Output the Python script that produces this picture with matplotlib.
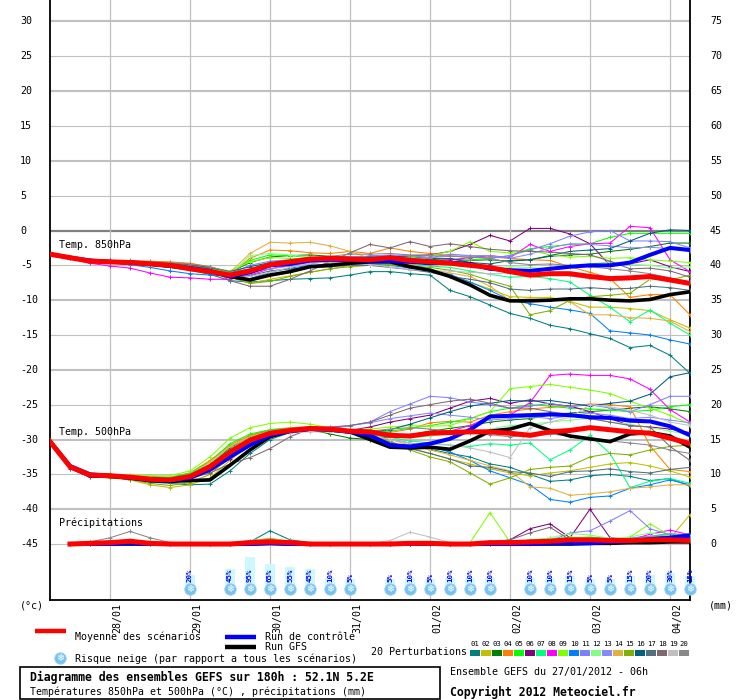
import numpy as np
import matplotlib
matplotlib.use('Agg')
import matplotlib.pyplot as plt
from matplotlib import transforms
from matplotlib.patches import Rectangle
from matplotlib.lines import Line2D

plt.rcParams['font.family'] = ['DejaVu Sans Mono', 'DejaVu Sans']

nan = np.nan

# time axis: 6-hourly steps from 27/01 06h
hours = list(range(0, 193, 6))
day_hours = [18, 42, 66, 90, 114, 138, 162, 186]
day_labels = ['28/01', '29/01', '30/01', '31/01', '01/02', '02/02', '03/02', '04/02']

member_colors = ['#008080', '#c0c000', '#008000', '#ff8000', '#00ff00',
                 '#800080', '#00ff80', '#ff00ff', '#80ff00', '#0080ff',
                 '#8080ff', '#80ff80', '#8888ff', '#e0b040', '#80b000',
                 '#006080', '#507080', '#806870', '#c0c0c0', '#888888']

# ---- 850 hPa temperature (C)
t850_mean = [-3.4, -3.9, -4.4, -4.5, -4.6, -4.8, -5.0, -5.5, -5.9, -6.4, -5.8,
             -4.9, -4.5, -4.1, -4.0, -4.1, -4.2, -3.9, -4.3, -4.5, -4.7, -5.0,
             -5.3, -5.9, -6.4, -6.2, -6.2, -6.6, -6.9, -6.8, -6.6, -7.1, -7.6]
t850_ctrl = [-3.4, -3.9, -4.3, -4.5, -4.6, -4.8, -5.0, -5.4, -5.8, -6.6, -6.0,
             -5.0, -4.8, -4.3, -4.2, -4.2, -4.4, -4.4, -4.5, -4.7, -4.6, -4.8,
             -5.5, -5.7, -5.8, -5.5, -5.2, -5.0, -5.0, -4.6, -3.5, -2.5, -2.8]
t850_gfs = [-3.4, -3.9, -4.4, -4.5, -4.6, -4.8, -5.1, -5.4, -5.9, -6.6, -7.1,
            -6.4, -5.9, -5.2, -5.0, -4.7, -4.5, -4.5, -5.2, -5.7, -6.6, -7.8,
            -9.3, -10.1, -10.1, -10.0, -9.8, -9.8, -10.0, -10.1, -9.9, -9.2, -8.8]
t850_members = [
    [-3.4, -3.9, -4.4, -4.6, -4.8, -5.0, -5.3, -5.7, -6.3, -7.2, -7.4,
     -7.2, -7.0, -6.9, -6.8, -6.4, -5.9, -5.9, -6.2, -6.4, -8.6, -9.5,
     -10.7, -11.9, -12.6, -13.6, -14.1, -14.8, -15.5, -16.8, -16.5, -17.9, -20.5],
    [-3.4, -3.9, -4.3, -4.4, -4.5, -4.7, -4.9, -5.1, -5.5, -6.2, -7.6,
     -7.0, -6.5, -6.0, -5.5, -5.0, -4.8, -4.9, -5.3, -5.6, -6.5, -7.4,
     -8.4, -9.5, -9.6, -9.6, -10.2, -11.0, -11.0, -11.2, -11.5, -12.8, -14.0],
    [-3.4, -3.8, -4.2, -4.3, -4.4, -4.6, -4.8, -5.0, -5.4, -6.0, -4.6,
     -3.8, -3.6, -3.5, -3.7, -3.8, -3.9, -3.7, -3.8, -4.0, -4.1, -4.3,
     -4.2, -4.4, -4.2, -3.7, -3.5, -3.4, -3.0, -2.7, -2.3, -1.8, -1.8],
    [-3.4, -3.8, -4.2, -4.4, -4.3, -4.4, -4.5, -4.7, -5.2, -6.3, -4.0,
     -2.8, -2.9, -3.2, -3.3, -3.0, -3.3, -2.5, -3.0, -3.3, -3.6, -3.9,
     -3.8, -4.0, -4.2, -4.3, -5.2, -6.0, -6.9, -9.6, -9.2, -9.2, -12.1],
    [-3.4, -3.9, -4.3, -4.5, -4.6, -4.7, -4.9, -5.2, -5.6, -6.0, -4.3,
     -3.5, -3.6, -3.9, -4.0, -4.1, -4.6, -4.4, -4.6, -4.6, -4.5, -4.2,
     -4.0, -3.6, -2.6, -2.3, -2.0, -1.9, -1.0, -0.4, -0.4, -0.4, -0.4],
    [-3.4, -3.9, -4.4, -4.6, -4.7, -4.9, -5.1, -5.4, -5.8, -6.6, -7.0,
     -6.4, -6.0, -5.3, -4.6, -4.0, -3.9, -3.8, -3.6, -3.5, -3.0, -2.0,
     -0.7, -1.5, 0.3, 0.3, -0.5, -1.9, -5.0, -4.8, -4.2, -5.2, -5.9],
    [-3.4, -3.9, -4.4, -4.6, -4.8, -5.0, -5.2, -5.5, -6.0, -6.8, -5.6,
     -4.7, -4.6, -4.5, -4.6, -4.6, -4.6, -4.7, -4.9, -5.1, -5.3, -5.8,
     -6.3, -6.7, -6.6, -6.9, -7.4, -9.3, -11.0, -13.1, -11.4, -13.3, -15.0],
    [-3.4, -4.0, -4.7, -5.1, -5.4, -6.1, -6.7, -6.8, -7.0, -7.0, -6.4,
     -5.5, -5.0, -4.6, -4.5, -4.4, -4.3, -4.3, -4.4, -4.4, -4.2, -3.9,
     -3.6, -3.9, -2.0, -3.0, -2.3, -1.9, -1.8, 0.6, 0.4, -4.2, -5.9],
    [-3.4, -3.9, -4.3, -4.4, -4.5, -4.6, -4.8, -5.0, -5.3, -5.8, -4.5,
     -3.9, -4.0, -4.1, -4.0, -4.0, -4.1, -4.0, -3.9, -3.6, -3.0, -1.6,
     -3.0, -3.2, -2.8, -3.5, -3.8, -3.7, -4.0, -3.9, -4.2, -4.4, -4.6],
    [-3.4, -3.9, -4.4, -4.6, -4.9, -5.3, -5.8, -6.2, -6.4, -6.6, -6.9,
     -6.0, -5.4, -5.0, -4.9, -4.8, -4.8, -5.0, -5.4, -5.7, -6.3, -7.4,
     -8.6, -10.0, -10.5, -11.0, -11.4, -11.9, -14.4, -14.7, -15.0, -15.7, -16.3],
    [-3.4, -3.8, -4.2, -4.4, -4.5, -4.7, -4.9, -5.2, -5.6, -6.2, -5.0,
     -4.4, -4.2, -4.0, -3.9, -3.8, -3.7, -3.5, -3.6, -3.9, -3.4, -3.6,
     -4.0, -3.6, -2.8, -1.9, -0.8, -0.2, 0.0, -1.5, -1.5, -1.6, -2.5],
    [-3.4, -3.8, -4.3, -4.5, -4.7, -4.9, -5.1, -5.4, -5.7, -6.3, -3.6,
     -3.3, -3.5, -3.8, -4.0, -4.2, -4.4, -4.6, -4.6, -4.8, -5.0, -5.1,
     -5.4, -5.2, -5.3, -5.6, -5.1, -4.8, -4.5, -4.8, -5.0, -5.4, -5.2],
    [-3.4, -3.9, -4.3, -4.5, -4.6, -4.8, -5.0, -5.3, -5.8, -6.5, -6.0,
     -5.5, -5.1, -4.8, -4.4, -4.1, -3.6, -3.6, -3.6, -3.9, -3.7, -3.6,
     -3.6, -4.0, -3.4, -2.5, -1.9, -2.0, -2.2, -2.5, -2.4, -2.6, -3.0],
    [-3.4, -3.8, -4.2, -4.3, -4.4, -4.5, -4.7, -4.9, -5.2, -6.0, -3.3,
     -1.7, -1.8, -1.7, -2.2, -3.0, -4.0, -4.3, -4.8, -5.6, -6.1, -6.6,
     -8.0, -10.0, -9.8, -9.9, -10.2, -12.1, -12.1, -12.5, -12.6, -13.0, -14.5],
    [-3.4, -3.9, -4.4, -4.6, -4.7, -4.9, -5.1, -5.4, -5.8, -6.7, -7.6,
     -7.3, -6.6, -6.0, -5.5, -5.2, -5.0, -4.9, -5.1, -5.3, -5.7, -6.3,
     -7.2, -8.0, -12.1, -11.5, -10.0, -9.5, -9.3, -9.0, -7.0, -7.1, -6.4],
    [-3.4, -3.8, -4.2, -4.3, -4.4, -4.5, -4.7, -4.9, -5.3, -5.9, -5.2,
     -4.6, -4.3, -4.1, -4.0, -3.9, -3.8, -3.8, -4.0, -4.2, -4.0, -4.6,
     -4.8, -4.3, -4.2, -3.6, -3.0, -2.8, -2.6, -1.5, -0.4, 0.1, 0.0],
    [-3.4, -3.9, -4.4, -4.6, -4.8, -5.0, -5.3, -5.6, -6.0, -6.5, -6.5,
     -5.8, -5.5, -5.3, -5.2, -5.0, -5.0, -5.3, -5.6, -6.0, -6.6, -7.0,
     -7.5, -8.4, -8.6, -8.4, -8.4, -8.2, -8.4, -8.3, -8.0, -8.2, -8.6],
    [-3.4, -3.9, -4.3, -4.4, -4.5, -4.6, -4.7, -5.0, -5.5, -7.2, -8.0,
     -8.0, -7.0, -5.8, -4.5, -3.2, -2.0, -2.5, -1.6, -2.3, -1.9, -2.3,
     -2.7, -2.9, -3.0, -3.1, -3.3, -3.5, -4.4, -5.5, -5.4, -5.8, -6.7],
    [-3.4, -3.8, -4.2, -4.4, -4.6, -4.8, -5.0, -5.3, -5.7, -6.3, -6.6,
     -6.0, -5.3, -4.7, -4.5, -4.7, -4.9, -5.2, -5.6, -5.8, -5.8, -6.0,
     -6.2, -6.1, -6.2, -6.2, -6.5, -6.9, -6.9, -6.7, -6.9, -7.2, -7.3],
    [-3.4, -3.9, -4.3, -4.5, -4.4, -4.5, -4.6, -4.8, -5.2, -6.0, -5.5,
     -4.8, -4.4, -4.0, -3.7, -3.4, -3.4, -3.3, -3.5, -3.6, -3.7, -3.8,
     -4.0, -4.6, -4.9, -4.8, -5.0, -5.2, -5.5, -5.8, -6.2, -6.8, -7.4],
]

# ---- 500 hPa temperature (C)
t500_mean = [-30.3, -33.9, -35.1, -35.2, -35.4, -35.7, -35.8, -35.3, -33.9, -31.8, -30.1,
             -29.1, -28.7, -28.4, -28.5, -28.8, -28.9, -29.4, -29.5, -29.1, -29.0, -28.9,
             -28.9, -29.1, -29.4, -28.9, -28.7, -28.3, -28.6, -28.9, -29.1, -29.8, -30.6]
t500_ctrl = [-30.3, -33.8, -35.0, -35.2, -35.5, -35.8, -35.9, -35.5, -34.3, -32.5, -30.8,
             -29.4, -28.8, -28.5, -28.6, -28.9, -29.4, -30.8, -31.0, -30.6, -29.9, -28.6,
             -26.7, -26.6, -26.5, -26.4, -26.5, -26.8, -26.9, -27.3, -27.4, -28.1, -29.4]
t500_gfs = [-30.3, -33.9, -35.2, -35.3, -35.5, -35.9, -36.0, -35.9, -35.8, -33.7, -31.5,
            -29.6, -28.8, -28.5, -28.6, -28.9, -30.0, -31.1, -31.2, -31.1, -31.4, -30.2,
            -28.8, -28.5, -27.7, -28.7, -29.5, -29.9, -30.3, -29.2, -29.0, -29.5, -31.1]
t500_members = [
    [-30.3, -34.0, -35.3, -35.4, -35.8, -36.1, -36.3, -36.5, -36.4, -34.5, -32.0,
     -30.0, -29.0, -28.7, -28.8, -29.0, -29.6, -30.5, -31.0, -31.4, -32.0, -32.5,
     -33.5, -34.0, -35.0, -36.0, -35.8, -35.2, -35.0, -35.3, -35.9, -35.6, -36.7],
    [-30.3, -34.0, -35.3, -35.5, -35.8, -36.5, -36.9, -36.5, -35.5, -33.0, -30.6,
     -29.4, -28.9, -28.6, -28.7, -28.9, -29.3, -30.5, -31.2, -32.0, -32.8, -33.5,
     -34.2, -34.8, -35.2, -34.8, -34.5, -34.0, -33.5, -33.3, -33.8, -34.5, -35.4],
    [-30.3, -33.8, -35.0, -35.1, -35.3, -35.5, -35.6, -35.0, -33.6, -31.2, -29.5,
     -28.7, -28.5, -28.6, -29.2, -29.8, -30.0, -29.6, -29.3, -28.8, -28.4, -28.0,
     -27.5, -27.2, -27.0, -26.5, -26.2, -26.0, -25.8, -25.5, -25.3, -25.6, -26.0],
    [-30.3, -33.8, -35.0, -35.1, -35.3, -35.5, -35.5, -34.8, -33.0, -30.8, -29.4,
     -28.6, -28.3, -28.2, -28.4, -28.7, -29.0, -29.0, -28.5, -27.6, -27.4, -27.5,
     -26.5, -26.0, -25.6, -25.4, -25.2, -24.9, -25.0, -25.3, -30.9, -34.3, -34.6],
    [-30.3, -33.8, -34.9, -35.0, -35.2, -35.3, -35.4, -34.8, -33.2, -30.6, -29.2,
     -28.6, -28.4, -28.4, -28.6, -28.8, -29.0, -28.8, -28.4, -28.0, -27.5, -27.0,
     -26.0, -25.5, -25.0, -25.2, -25.5, -25.6, -25.8, -26.0, -25.8, -25.3, -25.0],
    [-30.5, -34.2, -35.4, -35.4, -35.5, -35.8, -35.9, -35.6, -34.6, -32.8, -30.6,
     -29.3, -28.8, -28.5, -28.5, -28.7, -28.2, -27.5, -27.0, -26.5, -25.5, -24.5,
     -24.1, -24.8, -24.3, -24.9, -25.2, -26.0, -27.0, -28.0, -28.2, -28.5, -29.0],
    [-30.3, -33.9, -35.1, -35.2, -35.5, -35.7, -35.8, -35.2, -33.7, -31.5, -29.8,
     -28.9, -28.6, -28.5, -28.6, -28.9, -29.3, -29.7, -30.2, -30.5, -30.8, -31.0,
     -30.6, -30.8, -30.5, -32.9, -31.5, -29.4, -32.0, -36.9, -36.0, -35.6, -36.3],
    [-30.3, -33.9, -35.1, -35.2, -35.4, -35.7, -35.8, -35.3, -33.8, -31.6, -29.9,
     -29.0, -28.6, -28.4, -28.5, -28.8, -29.0, -29.2, -29.4, -29.2, -28.8, -28.0,
     -26.7, -26.5, -24.7, -20.8, -20.6, -20.8, -20.8, -21.3, -22.8, -25.7, -27.5],
    [-30.0, -33.9, -35.0, -35.0, -35.1, -35.2, -35.2, -34.5, -32.5, -29.8, -28.3,
     -27.7, -27.5, -27.8, -28.3, -28.6, -28.5, -28.2, -28.0, -28.1, -28.0, -27.0,
     -26.0, -22.7, -22.4, -22.1, -22.5, -22.9, -23.4, -24.5, -25.5, -26.5, -27.8],
    [-30.3, -33.9, -35.1, -35.3, -35.6, -35.9, -36.0, -35.5, -34.0, -31.8, -30.2,
     -29.3, -28.8, -28.6, -28.8, -29.1, -29.5, -30.0, -30.5, -31.0, -31.8, -33.0,
     -34.5, -35.5, -36.5, -38.6, -39.0, -38.3, -38.1, -37.0, -36.5, -35.8, -36.5],
    [-30.3, -33.8, -35.0, -35.1, -35.3, -35.6, -35.6, -35.0, -33.5, -31.5, -30.0,
     -29.2, -28.9, -28.7, -28.5, -28.0, -27.5, -26.0, -24.9, -23.8, -24.0, -24.6,
     -25.0, -25.5, -25.2, -24.8, -25.3, -25.0, -25.5, -26.0, -25.0, -23.8, -23.8],
    [-30.3, -33.8, -35.0, -35.2, -35.4, -35.6, -35.6, -35.0, -33.4, -31.0, -29.6,
     -28.8, -28.5, -28.4, -28.6, -28.9, -29.2, -29.5, -29.7, -29.5, -29.2, -29.0,
     -28.5, -28.0, -27.8, -27.5, -27.2, -27.0, -27.5, -27.8, -28.3, -28.8, -29.3],
    [-30.3, -33.9, -35.1, -35.2, -35.4, -35.7, -35.7, -35.2, -33.8, -31.7, -30.4,
     -29.6, -29.0, -28.6, -28.3, -28.0, -27.6, -27.0, -26.6, -26.2, -26.5, -26.8,
     -27.2, -27.0, -26.7, -27.0, -26.6, -26.2, -26.5, -27.0, -26.8, -27.2, -27.6],
    [-30.3, -33.9, -35.1, -35.3, -35.5, -35.8, -35.9, -35.2, -33.2, -31.0, -29.6,
     -28.8, -28.5, -28.4, -28.6, -29.0, -29.4, -30.0, -30.8, -31.5, -32.2, -33.0,
     -33.8, -34.5, -36.8, -37.0, -38.0, -37.8, -37.5, -37.0, -36.8, -36.5, -36.5],
    [-30.3, -34.1, -35.2, -35.4, -35.7, -36.3, -36.6, -36.2, -35.0, -32.5, -30.2,
     -29.2, -28.8, -28.5, -28.5, -28.8, -29.4, -30.2, -31.5, -32.5, -33.2, -34.8,
     -36.4, -35.5, -34.3, -34.0, -33.8, -32.5, -32.0, -32.2, -31.5, -31.0, -30.8],
    [-30.3, -33.9, -35.1, -35.2, -35.4, -35.7, -35.8, -35.3, -33.9, -31.8, -30.1,
     -29.2, -28.8, -28.5, -28.6, -28.8, -28.9, -28.6, -27.8, -26.9, -26.0, -25.2,
     -24.8, -24.4, -24.5, -24.4, -24.8, -25.2, -24.8, -24.5, -23.5, -21.0, -20.4],
    [-30.3, -34.0, -35.2, -35.3, -35.6, -35.9, -36.0, -35.6, -34.3, -32.2, -30.4,
     -29.4, -28.9, -28.6, -28.7, -29.0, -29.5, -30.4, -31.3, -32.0, -32.8, -33.8,
     -34.0, -34.6, -34.8, -35.3, -34.6, -34.5, -34.2, -34.6, -34.8, -34.3, -34.0],
    [-30.3, -33.9, -35.1, -35.3, -35.5, -35.8, -35.9, -35.6, -34.8, -33.5, -32.6,
     -31.3, -29.6, -28.5, -28.2, -28.0, -27.5, -26.5, -25.5, -25.0, -24.5, -24.2,
     -24.8, -25.5, -25.5, -26.0, -26.5, -27.0, -27.5, -28.0, -28.2, -31.0, -33.0],
    [-30.3, -33.9, -35.1, -35.2, -35.4, -35.7, -35.7, -35.2, -33.8, -31.8, -30.3,
     -29.5, -29.0, -28.9, -28.9, -29.0, -29.4, -30.0, -30.5, -30.7, -30.8, -31.2,
     -31.8, -32.6, -28.3, -27.5, -26.8, -25.0, -25.3, -25.8, -26.5, -27.5, -28.0],
    [-30.3, -33.9, -35.1, -35.2, -35.4, -35.7, -35.7, -35.2, -33.6, -31.4, -29.8,
     -28.9, -28.6, -28.3, -28.4, -28.7, -28.8, -28.5, -28.3, -28.5, -28.8, -29.0,
     -29.3, -29.6, -29.4, -29.2, -29.5, -30.0, -30.2, -30.5, -30.8, -31.5, -32.0],
]

# ---- precipitation (mm, right axis: 0 mm sits at -45 on the left scale)
precip_mean = [nan, 0.0, 0.1, 0.2, 0.4, 0.1, 0.0, 0.0, 0.0, 0.0, 0.2,
               0.3, 0.2, 0.0, 0.0, 0.0, 0.0, 0.0, 0.1, 0.1, 0.0, 0.0,
               0.2, 0.2, 0.3, 0.4, 0.6, 0.6, 0.5, 0.5, 0.6, 0.6, 0.5]
precip_ctrl = [nan, 0.0, 0.0, 0.0, 0.1, 0.0, 0.0, 0.0, 0.0, 0.0, 0.0,
               0.1, 0.0, 0.0, 0.0, 0.0, 0.0, 0.0, 0.0, 0.0, 0.0, 0.0,
               0.0, 0.0, 0.0, 0.1, 0.1, 0.1, 0.3, 0.4, 0.7, 0.9, 1.2]
precip_gfs = [nan, 0.0, 0.0, 0.0, 0.0, 0.0, 0.0, 0.0, 0.0, 0.0, 0.0,
              0.1, 0.0, 0.0, 0.0, 0.0, 0.0, 0.0, 0.0, 0.0, 0.0, 0.0,
              0.0, 0.0, 0.0, 0.0, 0.0, 0.1, 0.1, 0.2, 0.2, 0.3, 0.3]
precip_members = [
    [nan, 0.0, 0.1, 0.2, 0.3, 0.1, 0.0, 0.0, 0.0, 0.0, 0.3,
     1.9, 0.6, 0.2, 0.0, 0.0, 0.0, 0.0, 0.0, 0.0, 0.0, 0.0,
     0.0, 0.0, 0.2, 0.3, 0.2, 0.5, 0.4, 0.3, 0.6, 0.8, 1.0],
    [nan, 0.0, 0.3, 0.4, 0.5, 0.2, 0.0, 0.0, 0.0, 0.0, 0.4,
     0.6, 0.3, 0.0, 0.0, 0.0, 0.0, 0.0, 0.0, 0.0, 0.0, 0.0,
     0.0, 0.0, 0.0, 0.1, 0.2, 0.3, 0.2, 0.4, 0.5, 0.8, 4.2],
    [nan, 0.0, 0.0, 0.2, 0.3, 0.0, 0.0, 0.0, 0.0, 0.0, 0.2,
     0.5, 0.2, 0.0, 0.0, 0.0, 0.0, 0.0, 0.0, 0.0, 0.0, 0.0,
     0.0, 0.0, 0.3, 0.5, 0.6, 0.4, 0.3, 0.6, 0.9, 1.2, 1.0],
    [nan, 0.0, 0.0, 0.1, 0.4, 0.0, 0.0, 0.0, 0.0, 0.0, 0.3,
     0.8, 0.4, 0.0, 0.0, 0.0, 0.0, 0.0, 0.0, 0.0, 0.0, 0.0,
     0.0, 0.0, 0.1, 0.2, 0.3, 0.4, 0.2, 0.5, 0.8, 0.6, 0.4],
    [nan, 0.0, 0.1, 0.2, 0.2, 0.1, 0.0, 0.0, 0.0, 0.0, 0.3,
     0.5, 0.3, 0.0, 0.0, 0.0, 0.0, 0.0, 0.0, 0.0, 0.0, 0.0,
     0.1, 0.2, 0.6, 0.8, 0.9, 1.0, 0.8, 0.7, 1.0, 1.3, 1.2],
    [nan, 0.0, 0.0, 0.1, 0.2, 0.0, 0.0, 0.0, 0.0, 0.0, 0.2,
     0.4, 0.2, 0.0, 0.0, 0.0, 0.0, 0.0, 0.0, 0.0, 0.0, 0.0,
     0.2, 0.6, 2.2, 2.9, 0.9, 5.0, 0.9, 0.7, 0.5, 0.8, 0.6],
    [nan, 0.0, 0.0, 0.2, 0.3, 0.0, 0.0, 0.0, 0.0, 0.0, 0.3,
     0.7, 0.3, 0.0, 0.0, 0.0, 0.0, 0.0, 0.0, 0.0, 0.0, 0.0,
     0.0, 0.1, 0.3, 0.4, 0.5, 0.6, 0.5, 0.9, 1.1, 1.4, 1.2],
    [nan, 0.0, 0.0, 0.1, 0.1, 0.0, 0.0, 0.0, 0.0, 0.0, 0.2,
     0.4, 0.2, 0.0, 0.0, 0.0, 0.0, 0.0, 0.0, 0.0, 0.0, 0.0,
     0.0, 0.0, 0.1, 0.3, 0.4, 0.5, 0.4, 0.6, 1.4, 2.0, 1.3],
    [nan, 0.0, 0.1, 0.2, 0.2, 0.0, 0.0, 0.0, 0.0, 0.0, 0.2,
     0.5, 0.2, 0.0, 0.0, 0.0, 0.0, 0.0, 0.0, 0.0, 0.0, 0.2,
     4.5, 0.3, 0.2, 0.4, 1.0, 0.8, 0.6, 1.0, 2.9, 1.2, 1.0],
    [nan, 0.0, 0.0, 0.1, 0.2, 0.0, 0.0, 0.0, 0.0, 0.0, 0.3,
     0.6, 0.3, 0.0, 0.0, 0.0, 0.0, 0.0, 0.0, 0.0, 0.0, 0.0,
     0.0, 0.0, 0.1, 0.2, 0.2, 0.3, 0.2, 0.4, 0.6, 0.9, 1.1],
    [nan, 0.0, 0.2, 0.4, 0.5, 0.1, 0.0, 0.0, 0.0, 0.0, 0.2,
     0.5, 0.2, 0.0, 0.0, 0.0, 0.0, 0.0, 0.0, 0.0, 0.0, 0.0,
     0.2, 0.3, 0.3, 0.4, 1.6, 1.9, 3.3, 4.8, 2.2, 1.3, 1.0],
    [nan, 0.0, 0.1, 0.2, 0.3, 0.0, 0.0, 0.0, 0.0, 0.0, 0.2,
     0.4, 0.2, 0.0, 0.0, 0.0, 0.0, 0.0, 0.0, 0.0, 0.0, 0.0,
     0.0, 0.2, 0.4, 0.9, 1.5, 1.3, 0.8, 1.0, 1.6, 1.2, 0.9],
    [nan, 0.0, 0.1, 0.3, 0.4, 0.0, 0.0, 0.0, 0.0, 0.0, 0.2,
     0.5, 0.2, 0.0, 0.0, 0.0, 0.0, 0.0, 0.0, 0.0, 0.0, 0.0,
     0.0, 0.0, 0.2, 0.3, 0.4, 0.6, 0.5, 0.8, 1.1, 1.5, 1.3],
    [nan, 0.0, 0.2, 0.4, 0.6, 0.2, 0.0, 0.0, 0.0, 0.0, 0.5,
     0.8, 0.4, 0.0, 0.0, 0.0, 0.0, 0.0, 0.0, 0.0, 0.0, 0.0,
     0.0, 0.0, 0.1, 0.2, 0.3, 0.5, 0.4, 0.6, 0.8, 0.9, 0.7],
    [nan, 0.0, 0.1, 0.2, 0.2, 0.0, 0.0, 0.0, 0.0, 0.0, 0.3,
     0.7, 0.3, 0.0, 0.0, 0.0, 0.0, 0.0, 0.0, 0.0, 0.0, 0.0,
     0.0, 0.0, 0.2, 0.3, 0.3, 0.4, 0.3, 0.5, 0.7, 0.9, 0.8],
    [nan, 0.0, 0.0, 0.1, 0.2, 0.0, 0.0, 0.0, 0.0, 0.0, 0.3,
     0.6, 0.2, 0.0, 0.0, 0.0, 0.0, 0.0, 0.0, 0.0, 0.0, 0.0,
     0.0, 0.0, 0.1, 0.2, 0.3, 0.4, 0.3, 0.6, 0.8, 1.1, 1.5],
    [nan, 0.0, 0.0, 0.2, 0.3, 0.0, 0.0, 0.0, 0.0, 0.0, 0.3,
     0.6, 0.2, 0.0, 0.0, 0.0, 0.0, 0.0, 0.0, 0.0, 0.0, 0.0,
     0.0, 0.0, 0.2, 0.2, 0.2, 0.3, 0.4, 0.5, 0.6, 0.7, 0.8],
    [nan, 0.0, 0.0, 0.2, 0.3, 0.0, 0.0, 0.0, 0.0, 0.0, 0.2,
     0.5, 0.2, 0.0, 0.0, 0.0, 0.0, 0.0, 0.0, 0.0, 0.0, 0.0,
     0.3, 0.6, 1.6, 2.4, 0.6, 0.4, 0.3, 0.5, 0.7, 0.9, 1.0],
    [nan, 0.0, 0.0, 0.1, 0.2, 0.0, 0.0, 0.0, 0.0, 0.0, 0.2,
     0.4, 0.2, 0.0, 0.0, 0.0, 0.0, 0.5, 1.7, 1.0, 0.2, 0.0,
     0.0, 0.0, 0.2, 0.3, 0.4, 0.5, 0.4, 0.6, 0.8, 0.9, 1.1],
    [nan, 0.0, 0.3, 0.9, 1.8, 0.9, 0.2, 0.0, 0.0, 0.0, 0.5,
     0.6, 0.3, 0.0, 0.0, 0.0, 0.0, 0.0, 0.0, 0.0, 0.0, 0.0,
     0.0, 0.0, 0.2, 0.3, 0.4, 0.5, 0.4, 0.6, 0.9, 1.0, 0.9],
]
PRECIP_ZERO = -45

# ---- snow risk (% of all scenarios)
snow_hours = [42, 54, 60, 66, 72, 78, 84, 90, 102, 108, 114, 120, 126, 132,
              144, 150, 156, 162, 168, 174, 180, 186, 192]
snow_pct = [20, 45, 95, 65, 55, 45, 10, 5, 5, 10, 5, 10, 10, 10,
            10, 10, 15, 5, 5, 15, 20, 30, 15]

# ---------------------------------------------------------------- layout
W, H = 740, 700
PXU = 6.967      # pixels per degree
Y0 = 230.5       # pixel row of the 0 line


def yd(ypx):
    return (Y0 - ypx) / PXU


def xd(xpx):
    return (xpx - 50) * 192 / 640


def fx(x):
    return x / W


def fy(y):
    return 1 - y / H


def snowflake(x, y, transform, zorder=7):
    # pale blue disc with a white flake on it
    ax.plot([x], [y], marker='o', ms=8.2, color='#74c4f0', mec='#9cc8ee',
            mew=0.6, transform=transform, clip_on=False, zorder=zorder)
    ax.text(x, y, '❄', family='DejaVu Sans', ha='center', va='center',
            fontsize=7, color='white', transform=transform, zorder=zorder + 1)


fig = plt.figure(figsize=(W / 100, H / 100), dpi=100)
fig.patch.set_facecolor('white')
ax = fig.add_axes([50 / W, 1 - 600 / H, 640 / W, 600 / H])
ax.set_xlim(0, 192)
ax.set_ylim(yd(600), yd(0))
ax.set_xticks([])
ax.set_yticks([])
ax.spines['top'].set_visible(False)
for s in ['left', 'right', 'bottom']:
    ax.spines[s].set_linewidth(1.3)
    ax.spines[s].set_color('black')

for v in range(-45, 31, 5):
    if v == 0:
        ax.axhline(v, color='#808080', lw=1.6, zorder=1)
    else:
        ax.axhline(v, color='#c0c0c0', lw=1.5 if v % 10 == 0 else 0.8, zorder=1)
for d in day_hours:
    ax.axvline(d, color='#c0c0c0', lw=0.9, zorder=1)

ytrans = transforms.blended_transform_factory(ax.transAxes, ax.transData)
for v in range(-45, 31, 5):
    ax.text(-30 / 640, v, str(v), transform=ytrans, ha='left', va='center', fontsize=7.2)
    ax.text(660 / 640, v, str(v + 45), transform=ytrans, ha='left', va='center', fontsize=7.2)
fig.text(fx(20), fy(606), '(°c)', ha='left', va='center', fontsize=7.2)
fig.text(fx(709), fy(606), '(mm)', ha='left', va='center', fontsize=7.2)

xtrans = transforms.blended_transform_factory(ax.transData, ax.transAxes)
xtrans = transforms.offset_copy(xtrans, fig=fig, x=7, y=-3, units='dots')
for d, lab in zip(day_hours, day_labels):
    ax.text(d, 0, lab, transform=xtrans, rotation=90, ha='center', va='top', fontsize=7.2)

# ensemble members
mk = dict(lw=0.75, marker='+', ms=3.5, mew=0.7, zorder=3)
for col, vals in zip(member_colors, t850_members):
    ax.plot(hours, vals, color=col, **mk)
for col, vals in zip(member_colors, t500_members):
    ax.plot(hours, vals, color=col, **mk)
for col, vals in zip(member_colors, precip_members):
    ax.plot(hours, np.array(vals) + PRECIP_ZERO, color=col, **mk)

for mean, ctrl, gfs in [(t850_mean, t850_ctrl, t850_gfs),
                        (t500_mean, t500_ctrl, t500_gfs),
                        (precip_mean, precip_ctrl, precip_gfs)]:
    off = PRECIP_ZERO if mean is precip_mean else 0
    ax.plot(hours, np.array(gfs) + off, color='black', lw=2.6, zorder=4)
    ax.plot(hours, np.array(ctrl) + off, color='#0000ff', lw=2.9, zorder=5)
    ax.plot(hours, np.array(mean) + off, color='#ff0000', lw=3.6, zorder=6)

ax.text(xd(59), yd(245), 'Temp. 850hPa', ha='left', va='center', fontsize=7.2, zorder=7)
ax.text(xd(59), yd(432), 'Temp. 500hPa', ha='left', va='center', fontsize=7.2, zorder=7)
ax.text(xd(59), yd(523), 'Précipitations', ha='left', va='center', fontsize=7.2, zorder=7)

# snow risk markers
for h, p in zip(snow_hours, snow_pct):
    bh = (5 + p * 0.24) / PXU
    ax.add_patch(Rectangle((h - 1.5, yd(585)), 3, bh, facecolor='#ccf8ff',
                           edgecolor='none', zorder=2, clip_on=False))
    ax.text(h, yd(582), f'{p}%', rotation=90, ha='center', va='bottom',
            fontsize=5.3, color='#0000ff', fontweight='bold', zorder=7)
    snowflake(h, yd(589), ax.transData)

# ---------------------------------------------------------------- legend block
def hbar(x0, x1, y, color):
    fig.add_artist(Line2D([fx(x0), fx(x1)], [fy(y), fy(y)], color=color, lw=3.2,
                          solid_capstyle='butt', transform=fig.transFigure))


hbar(35, 66, 631, '#ff0000')
fig.text(fx(75), fy(637), 'Moyenne des scénarios', ha='left', va='center', fontsize=7.2)
hbar(225, 256, 637, '#0000ff')
fig.text(fx(265), fy(637), 'Run de contrôle', ha='left', va='center', fontsize=7.2)
hbar(225, 256, 647, 'black')
fig.text(fx(265), fy(647), 'Run GFS', ha='left', va='center', fontsize=7.2)
snowflake(fx(60), fy(658), fig.transFigure)
fig.text(fx(75), fy(659), 'Risque neige (par rapport a tous les scénarios)',
         ha='left', va='center', fontsize=7.2)

fig.text(fx(371), fy(652), '20 Perturbations', ha='left', va='center', fontsize=7.2)
for k, col in enumerate(member_colors):
    fig.add_artist(Rectangle((fx(470 + 11 * k), fy(656)), 10 / W, 6 / H,
                             facecolor=col, edgecolor='none', transform=fig.transFigure))
    fig.text(fx(475 + 11 * k), fy(644), f'{k + 1:02d}', ha='center', va='center',
             fontsize=5.2)

fig.add_artist(Rectangle((fx(20), fy(699)), 420 / W, 32 / H, fill=False,
                         edgecolor='black', lw=1.2, transform=fig.transFigure))
fig.text(fx(30), fy(677), 'Diagramme des ensembles GEFS sur 180h : 52.1N 5.2E',
         ha='left', va='center', fontsize=8.3, fontweight='bold')
fig.text(fx(30), fy(692), 'Températures 850hPa et 500hPa (°C) , précipitations (mm)',
         ha='left', va='center', fontsize=7.1)
fig.text(fx(450), fy(672), 'Ensemble GEFS du 27/01/2012 - 06h',
         ha='left', va='center', fontsize=7.2)
fig.text(fx(450), fy(692), 'Copyright 2012 Meteociel.fr',
         ha='left', va='center', fontsize=8.3, fontweight='bold')

fig.savefig('out.png', dpi=100)
